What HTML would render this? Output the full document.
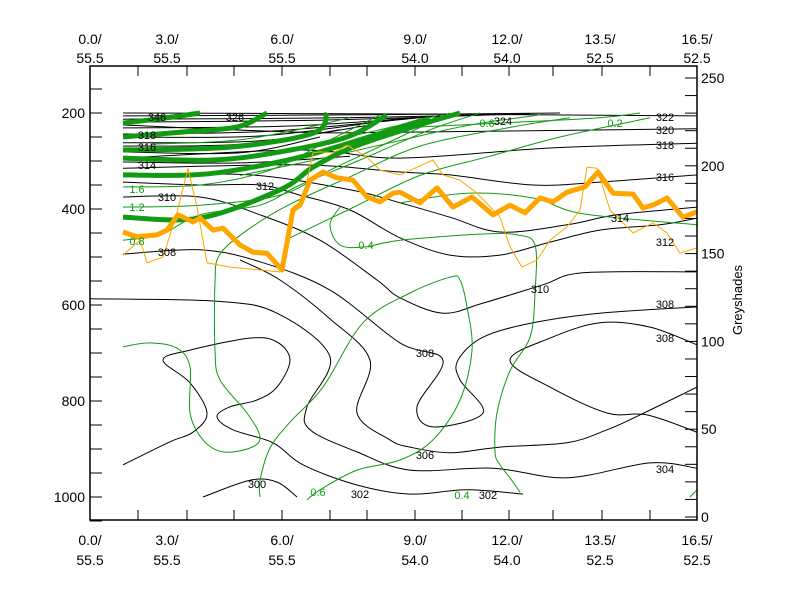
<!DOCTYPE html>
<html><head><meta charset="utf-8"><style>
body{margin:0;background:#fff;}
svg text{font-family:"Liberation Sans",sans-serif;}
</style></head><body>
<svg id="chart" width="800" height="600" xmlns="http://www.w3.org/2000/svg">
<rect x="0" y="0" width="800" height="600" fill="#fff"/>
<g id="marks"></g>
<g id="axes"></g>
<g id="labels" font-size="11"></g>
</svg>
<script>
// ---- data (x = grid index along section, p = pressure hPa) ----
const leftTicks = [200, 400, 600, 800, 1000];
const rightTicks = [0, 50, 100, 150, 200, 250];
const xLabelsTop = ["0.0/", "3.0/", "6.0/", "9.0/", "12.0/", "13.5/", "16.5/"];
const xLabelsBot = ["55.5", "55.5", "55.5", "54.0", "54.0", "52.5", "52.5"];
const xLabelPos = [0, 77, 192, 325, 417, 510, 607];
const xMinorTicks = [48, 97, 144, 192, 240, 277, 325, 372, 419, 463, 512, 560];

const orangeThick = [[33,448],[47,458],[67,454],[77,444],[88,412],[103,427],[110,419],[123,444],[133,440],[150,475],[163,490],[177,492],[192,527],[203,402],[210,392],[220,340],[233,323],[247,335],[263,340],[277,375],[290,385],[303,367],[310,365],[330,387],[347,356],[363,396],[382,375],[403,412],[420,392],[435,408],[450,377],[463,385],[477,365],[495,354],[508,323],[523,367],[543,369],[553,398],[565,390],[577,377],[593,417],[607,406]];
const orangeThin = [[33,496],[50,465],[57,512],[73,500],[87,408],[98,315],[107,396],[117,512],[140,521],[190,531],[203,396],[213,381],[223,283],[230,281],[243,283],[257,267],[277,292],[290,319],[310,329],[343,298],[353,329],[370,340],[387,367],[410,417],[420,479],[432,521],[447,506],[460,465],[477,437],[490,402],[497,313],[507,315],[520,402],[543,450],[563,429],[577,450],[590,492],[607,481]];

const blackContours = [
 [[33,200],[310,202],[607,206]],
 [[33,225],[210,240],[310,240],[607,233]],
 [[33,294],[210,277],[310,294],[460,273],[607,263]],
 [[33,315],[210,308],[310,323],[360,329],[443,350],[510,344],[607,329]],
 [[33,329],[160,329],[260,360],[310,387],[360,417],[410,448],[477,433],[527,412],[607,396]],
 [[33,344],[110,350],[170,350],[210,371],[260,402],[310,460],[360,496],[410,496],[460,469],[510,444],[570,433],[607,419]],
 [[33,375],[110,375],[170,412],[230,465],[287,548],[310,585],[353,617],[393,596],[453,558],[493,533],[607,531]],
 [[33,494],[110,485],[170,510],[240,569],[310,679],[353,715],[327,812],[343,854],[393,825],[370,756],[368,715],[393,667],[443,637],[510,617],[607,604]],
 [[607,683],[560,646],[510,637],[460,669],[420,715],[460,771],[517,825],[557,829],[607,865]],
 [[150,506],[190,548],[240,629],[280,715],[267,825],[300,881],[320,896],[360,908],[410,896],[477,887],[517,860],[550,829],[607,771]],
 [[0,587],[127,592],[187,617],[240,708],[217,812],[220,860],[267,906],[320,944],[403,940],[477,960],[560,929],[607,940]],
 [[33,933],[80,885],[103,865],[117,825],[100,762],[73,715],[100,694],[160,669],[187,677],[200,715],[187,771],[167,798],[140,812],[127,833],[143,860],[183,887],[213,933],[267,975],[320,994],[377,985],[433,994]],
 [[113,1000],[160,965],[187,969],[207,1000]],
 [[33,206],[250,204],[470,200]],
 [[33,213],[250,210],[440,202]],
 [[33,219],[230,215],[400,204]],
 [[33,231],[200,227],[350,206]],
 [[33,244],[180,238],[330,210]],
 [[33,250],[170,248],[300,215]],
 [[33,262],[170,258],[280,225]],
 [[33,269],[150,265],[250,235]],
 [[33,281],[150,283],[230,250]],
 [[33,302],[150,304],[260,290]]
];
const greenThick = [
 [[33,417],[110,419],[190,360],[223,313],[263,271],[323,229],[370,200]],
 [[33,329],[103,329],[157,315],[223,285],[323,221],[340,212]],
 [[33,294],[123,298],[190,281],[257,250],[297,204]],
 [[33,277],[140,271],[223,242],[237,200]],
 [[33,250],[90,240],[147,229],[177,200]],
 [[33,221],[77,210],[110,200]]
];
const greenThin = [
 [[33,354],[110,350],[180,319],[240,256],[290,204]],
 [[33,396],[110,392],[190,371],[240,319],[310,250],[360,200]],
 [[33,465],[70,454],[110,412],[170,392],[210,350],[270,298],[340,235],[390,200]],
 [[33,687],[60,679],[87,690],[100,729],[100,825],[113,881],[133,906],[160,898],[170,875],[157,825],[130,756],[125,694],[125,554],[130,494],[160,440],[200,390],[260,333],[330,269],[420,230],[480,210]],
 [[170,1000],[170,965],[180,898],[200,844],[233,771],[273,637],[320,575],[360,542],[370,548],[377,604],[382,694],[370,798],[343,881],[310,923],[267,944],[230,985],[217,1006]],
 [[250,396],[240,433],[250,475],[275,479],[310,465],[393,452],[427,454],[445,475],[445,575],[440,667],[420,737],[407,825],[405,906],[410,933],[420,960],[430,990]],
 [[310,231],[410,221],[510,210],[550,200]],
 [[310,387],[377,367],[443,377],[493,410],[607,433]],
 [[200,460],[260,400],[330,330],[400,290],[470,250],[560,210]],
 [[150,330],[220,300],[300,262],[380,225],[450,204]],
 [[60,300],[150,290],[230,262],[300,230],[350,204]],
 [[60,265],[140,258],[200,238],[260,210]],
 [[600,1000],[607,985]]
];

// ---- scales ----
const X0 = 90, X1 = 697, Y0 = 66, Y1 = 520;
function sx(u){ return X0 + u; }
function sy(p){ return 113 + (p - 200) * 0.48; }
function sr(v){ return 517 - v * 1.756; }
const NS = "http://www.w3.org/2000/svg";
const marks = document.getElementById('marks');
const axes = document.getElementById('axes');
const labels = document.getElementById('labels');
function mk(tag, attrs, parent){ const e = document.createElementNS(NS, tag); for (const k in attrs) e.setAttribute(k, attrs[k]); parent.appendChild(e); return e; }
function pts(arr){ return arr.map(d => sx(d[0]).toFixed(1) + ',' + sy(d[1]).toFixed(1)).join(' '); }
function smooth(arr){
  const P = arr.map(d => [sx(d[0]), sy(d[1])]);
  let s = 'M' + P[0][0].toFixed(1) + ',' + P[0][1].toFixed(1);
  for (let i = 0; i < P.length - 1; i++) {
    const p0 = P[Math.max(0, i-1)], p1 = P[i], p2 = P[i+1], p3 = P[Math.min(P.length-1, i+2)];
    const c1 = [p1[0] + (p2[0]-p0[0])/6, p1[1] + (p2[1]-p0[1])/6];
    const c2 = [p2[0] - (p3[0]-p1[0])/6, p2[1] - (p3[1]-p1[1])/6];
    s += ' C' + c1[0].toFixed(1) + ',' + c1[1].toFixed(1) + ' ' + c2[0].toFixed(1) + ',' + c2[1].toFixed(1) + ' ' + p2[0].toFixed(1) + ',' + p2[1].toFixed(1);
  }
  return s;
}

const clip = mk('clipPath', {id:'plotclip'}, marks);
mk('rect', {x:X0, y:Y0, width:X1-X0, height:Y1-Y0}, clip);
const plot = mk('g', {'clip-path':'url(#plotclip)'}, marks);

blackContours.forEach(c => {
  const el = mk('path', {d:smooth(c), fill:'none', stroke:'#000', 'stroke-width':1}, plot);
  
  
});
greenThin.forEach(c => {
  const el = mk('path', {d:smooth(c), fill:'none', stroke:'#129a12', 'stroke-width':1}, plot);
  
  
});
greenThick.forEach(c => {
  const el = mk('path', {d:smooth(c), fill:'none', stroke:'#129a12', 'stroke-width':5, 'stroke-linejoin':'round'}, plot);
  
  
});
{
  const el = mk('polyline', {points:pts(orangeThin), fill:'none', stroke:'#ffa500', 'stroke-width':1}, plot);
  
  
  const el2 = mk('polyline', {points:pts(orangeThick), fill:'none', stroke:'#ffa500', 'stroke-width':5, 'stroke-linejoin':'round'}, plot);
  
  
}

// contour labels
const cLabels = [["308",167,252,"#000"],["310",167,197,"#000"],["312",265,186,"#000"],["322",665,117,"#000"],["320",665,130,"#000"],["318",665,145,"#000"],["316",665,177,"#000"],["314",620,218,"#000"],["312",665,242,"#000"],["310",540,289,"#000"],["308",665,304,"#000"],["308",665,338,"#000"],["308",425,353,"#000"],["306",425,455,"#000"],["304",665,469,"#000"],["302",488,495,"#000"],["300",257,484,"#000"],["302",360,494,"#000"],["324",503,121,"#000"],["326",235,117,"#000"],["346",157,117,"#000"],["318",147,135,"#000"],["316",147,147,"#000"],["314",147,165,"#000"],
["1.6",137,189,"#129a12"],["1.2",137,207,"#129a12"],["0.8",137,241,"#129a12"],["0.4",366,245,"#129a12"],["0.2",615,123,"#129a12"],["0.6",487,123,"#129a12"],["0.6",318,492,"#129a12"],["0.4",462,495,"#129a12"]];
cLabels.forEach(l => {
  const t = mk('text', {x:l[1], y:l[2]+4, fill:l[3], 'text-anchor':'middle', 'font-size':'11'}, labels);
  t.textContent = l[0];
  
  
});

// ---- axes ----
mk('rect', {x:X0, y:Y0, width:X1-X0, height:Y1-Y0, fill:'none', stroke:'#000', 'stroke-width':1.5}, axes);
for (let p = 150; p <= 1050; p += 50) {
  mk('line', {x1:X0, x2:X0+12, y1:sy(p), y2:sy(p), stroke:'#000'}, axes);
}
leftTicks.forEach(p => {
  const t = mk('text', {x:85, y:sy(p)+5, 'text-anchor':'end', 'font-size':'14'}, axes);
  t.textContent = p;
  
  
});
for (let v = 0; v <= 250; v += 10) {
  mk('line', {x1:X1-12, x2:X1, y1:sr(v), y2:sr(v), stroke:'#000'}, axes);
}
rightTicks.forEach(v => {
  const t = mk('text', {x:701, y:sr(v)+5, 'text-anchor':'start', 'font-size':'14'}, axes);
  t.textContent = v;
  
  
});
xMinorTicks.forEach(u => {
  mk('line', {x1:sx(u), x2:sx(u), y1:Y0, y2:Y0+10, stroke:'#000'}, axes);
  mk('line', {x1:sx(u), x2:sx(u), y1:Y1-10, y2:Y1, stroke:'#000'}, axes);
});
xLabelPos.forEach((u, i) => {
  [[44,63],[545,565]].forEach((ys, j) => {
    const a = mk('text', {x:sx(u), y:ys[0], 'text-anchor':'middle', 'font-size':'14'}, axes);
    a.textContent = xLabelsTop[i];
    
    
    const b = mk('text', {x:sx(u), y:ys[1], 'text-anchor':'middle', 'font-size':'14'}, axes);
    b.textContent = xLabelsBot[i];
    
    
  });
});
const yt = mk('text', {x:742, y:300, 'text-anchor':'middle', 'font-size':'13', transform:'rotate(-90 742 300)'}, axes);
yt.textContent = 'Greyshades';


</script>
</body></html>
